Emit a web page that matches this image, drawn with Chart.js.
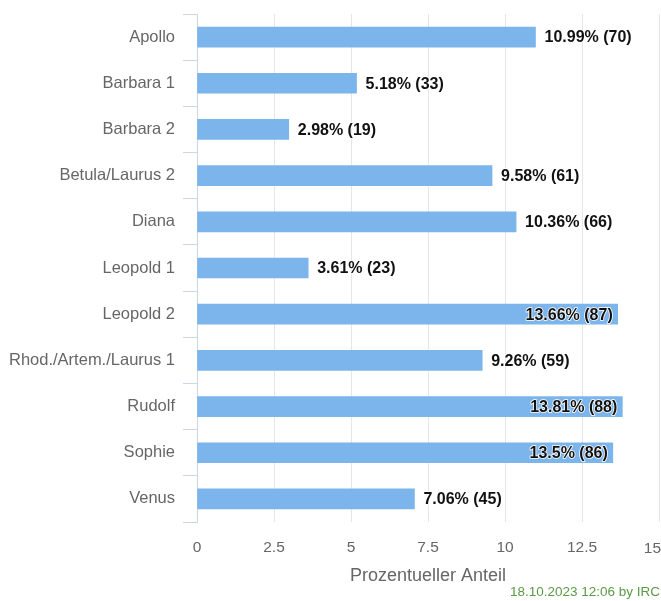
<!DOCTYPE html>
<html lang="de">
<head>
    <meta charset="UTF-8">
    <title>Prozentueller Anteil</title>
    <script src="https://cdn.jsdelivr.net/npm/chart.js"></script>
    <style>
        body {
            margin: 0;
            background: #ffffff;
        }

        #wrap {
            width: 661px;
            height: 601px;
        }
    </style>
</head>
<body>
    <div id="wrap"><canvas id="chart"></canvas></div>

    <script>
        const categories = ['Apollo', 'Barbara 1', 'Barbara 2', 'Betula/Laurus 2', 'Diana', 'Leopold 1',
            'Leopold 2', 'Rhod./Artem./Laurus 1', 'Rudolf', 'Sophie', 'Venus'];
        const percent = [10.99, 5.18, 2.98, 9.58, 10.36, 3.61, 13.66, 9.26, 13.81, 13.5, 7.06];
        const counts = [70, 33, 19, 61, 66, 23, 87, 59, 88, 86, 45];
        const xTicks = [0, 2.5, 5, 7.5, 10, 12.5, 15];

        const FONT = 'Arial, "Liberation Sans", Helvetica, sans-serif';
        const TICK_FONT = '15.5px ' + FONT;
        const X_MAX = xTicks[xTicks.length - 1];

        // bold value labels: outside at bar end, or inside when they would leave the plot
        const barLabels = {
            id: 'barLabels',
            afterDatasetsDraw(chart) {
                const ctx = chart.ctx;
                const area = chart.chartArea;
                const meta = chart.getDatasetMeta(0);
                ctx.save();
                ctx.font = 'bold 16px ' + FONT;
                ctx.textBaseline = 'middle';
                ctx.textAlign = 'left';
                ctx.lineJoin = 'round';
                meta.data.forEach((bar, i) => {
                    const text = percent[i] + '% (' + counts[i] + ')';
                    const w = ctx.measureText(text).width;
                    let x = bar.x + 9;
                    if (x + w > area.right) {
                        x = bar.x - 5 - w;
                    }
                    ctx.strokeStyle = '#ffffff';
                    ctx.lineWidth = 1.6;
                    ctx.strokeText(text, x, bar.y + 1);
                    ctx.fillStyle = '#111111';
                    ctx.fillText(text, x, bar.y + 1);
                });
                ctx.restore();
            }
        };

        // the last x label is pushed back inside the canvas instead of being cut off
        const lastTick = {
            id: 'lastTick',
            afterDraw(chart) {
                const ctx = chart.ctx;
                const sx = chart.scales.x;
                const text = String(X_MAX);
                ctx.save();
                ctx.font = TICK_FONT;
                const w = ctx.measureText(text).width;
                const right = Math.min(sx.getPixelForValue(X_MAX) + w / 2, chart.width);
                ctx.fillStyle = '#666666';
                ctx.textAlign = 'left';
                ctx.textBaseline = 'middle';
                ctx.fillText(text, right - w, sx.top + 16 + 11);
                ctx.restore();
            }
        };

        const credit = {
            id: 'credit',
            afterDraw(chart) {
                const ctx = chart.ctx;
                ctx.save();
                ctx.font = '13.5px ' + FONT;
                ctx.fillStyle = '#5a9a46';
                ctx.textAlign = 'right';
                ctx.textBaseline = 'middle';
                ctx.fillText('18.10.2023 12:06 by IRC', 660, 592);
                ctx.restore();
            }
        };

        new Chart(document.getElementById('chart'), {
            type: 'bar',
            data: {
                labels: categories,
                datasets: [{
                    data: percent,
                    backgroundColor: '#7cb5ec',
                    barThickness: 20,
                    borderWidth: 0
                }]
            },
            options: {
                indexAxis: 'y',
                responsive: true,
                maintainAspectRatio: false,
                animation: false,
                layout: {
                    padding: { top: 14, right: 2, bottom: 14, left: 0 }
                },
                plugins: {
                    legend: { display: false },
                    tooltip: { enabled: false }
                },
                scales: {
                    x: {
                        min: 0,
                        max: X_MAX,
                        afterBuildTicks: s => { s.ticks = xTicks.map(v => ({ value: v })); },
                        afterFit: s => {
                            s.height = 65;
                            s.paddingLeft = 0;
                            s.paddingRight = 0;
                        },
                        grid: {
                            color: c => (c.tick && c.tick.value === 0) ? 'rgba(0,0,0,0)' : '#e6e6e6',
                            drawTicks: false
                        },
                        border: { display: false },
                        ticks: {
                            color: '#666666',
                            padding: 16,
                            font: { family: FONT, size: 15.5 },
                            callback: v => (v === X_MAX ? '' : v)
                        },
                        title: {
                            display: true,
                            text: 'Prozentueller Anteil',
                            color: '#666666',
                            padding: 0,
                            font: { family: FONT, size: 18 }
                        }
                    },
                    y: {
                        afterFit: s => {
                            s.width = 197;
                            s.paddingTop = 0;
                            s.paddingBottom = 0;
                        },
                        grid: {
                            drawOnChartArea: false,
                            color: '#ccd6eb',
                            tickLength: 14
                        },
                        border: { display: true, color: '#ccd6eb', width: 1 },
                        ticks: {
                            color: '#666666',
                            padding: 8,
                            font: { family: FONT, size: 16.5 }
                        }
                    }
                }
            },
            plugins: [barLabels, lastTick, credit]
        });
    </script>
</body>
</html>
